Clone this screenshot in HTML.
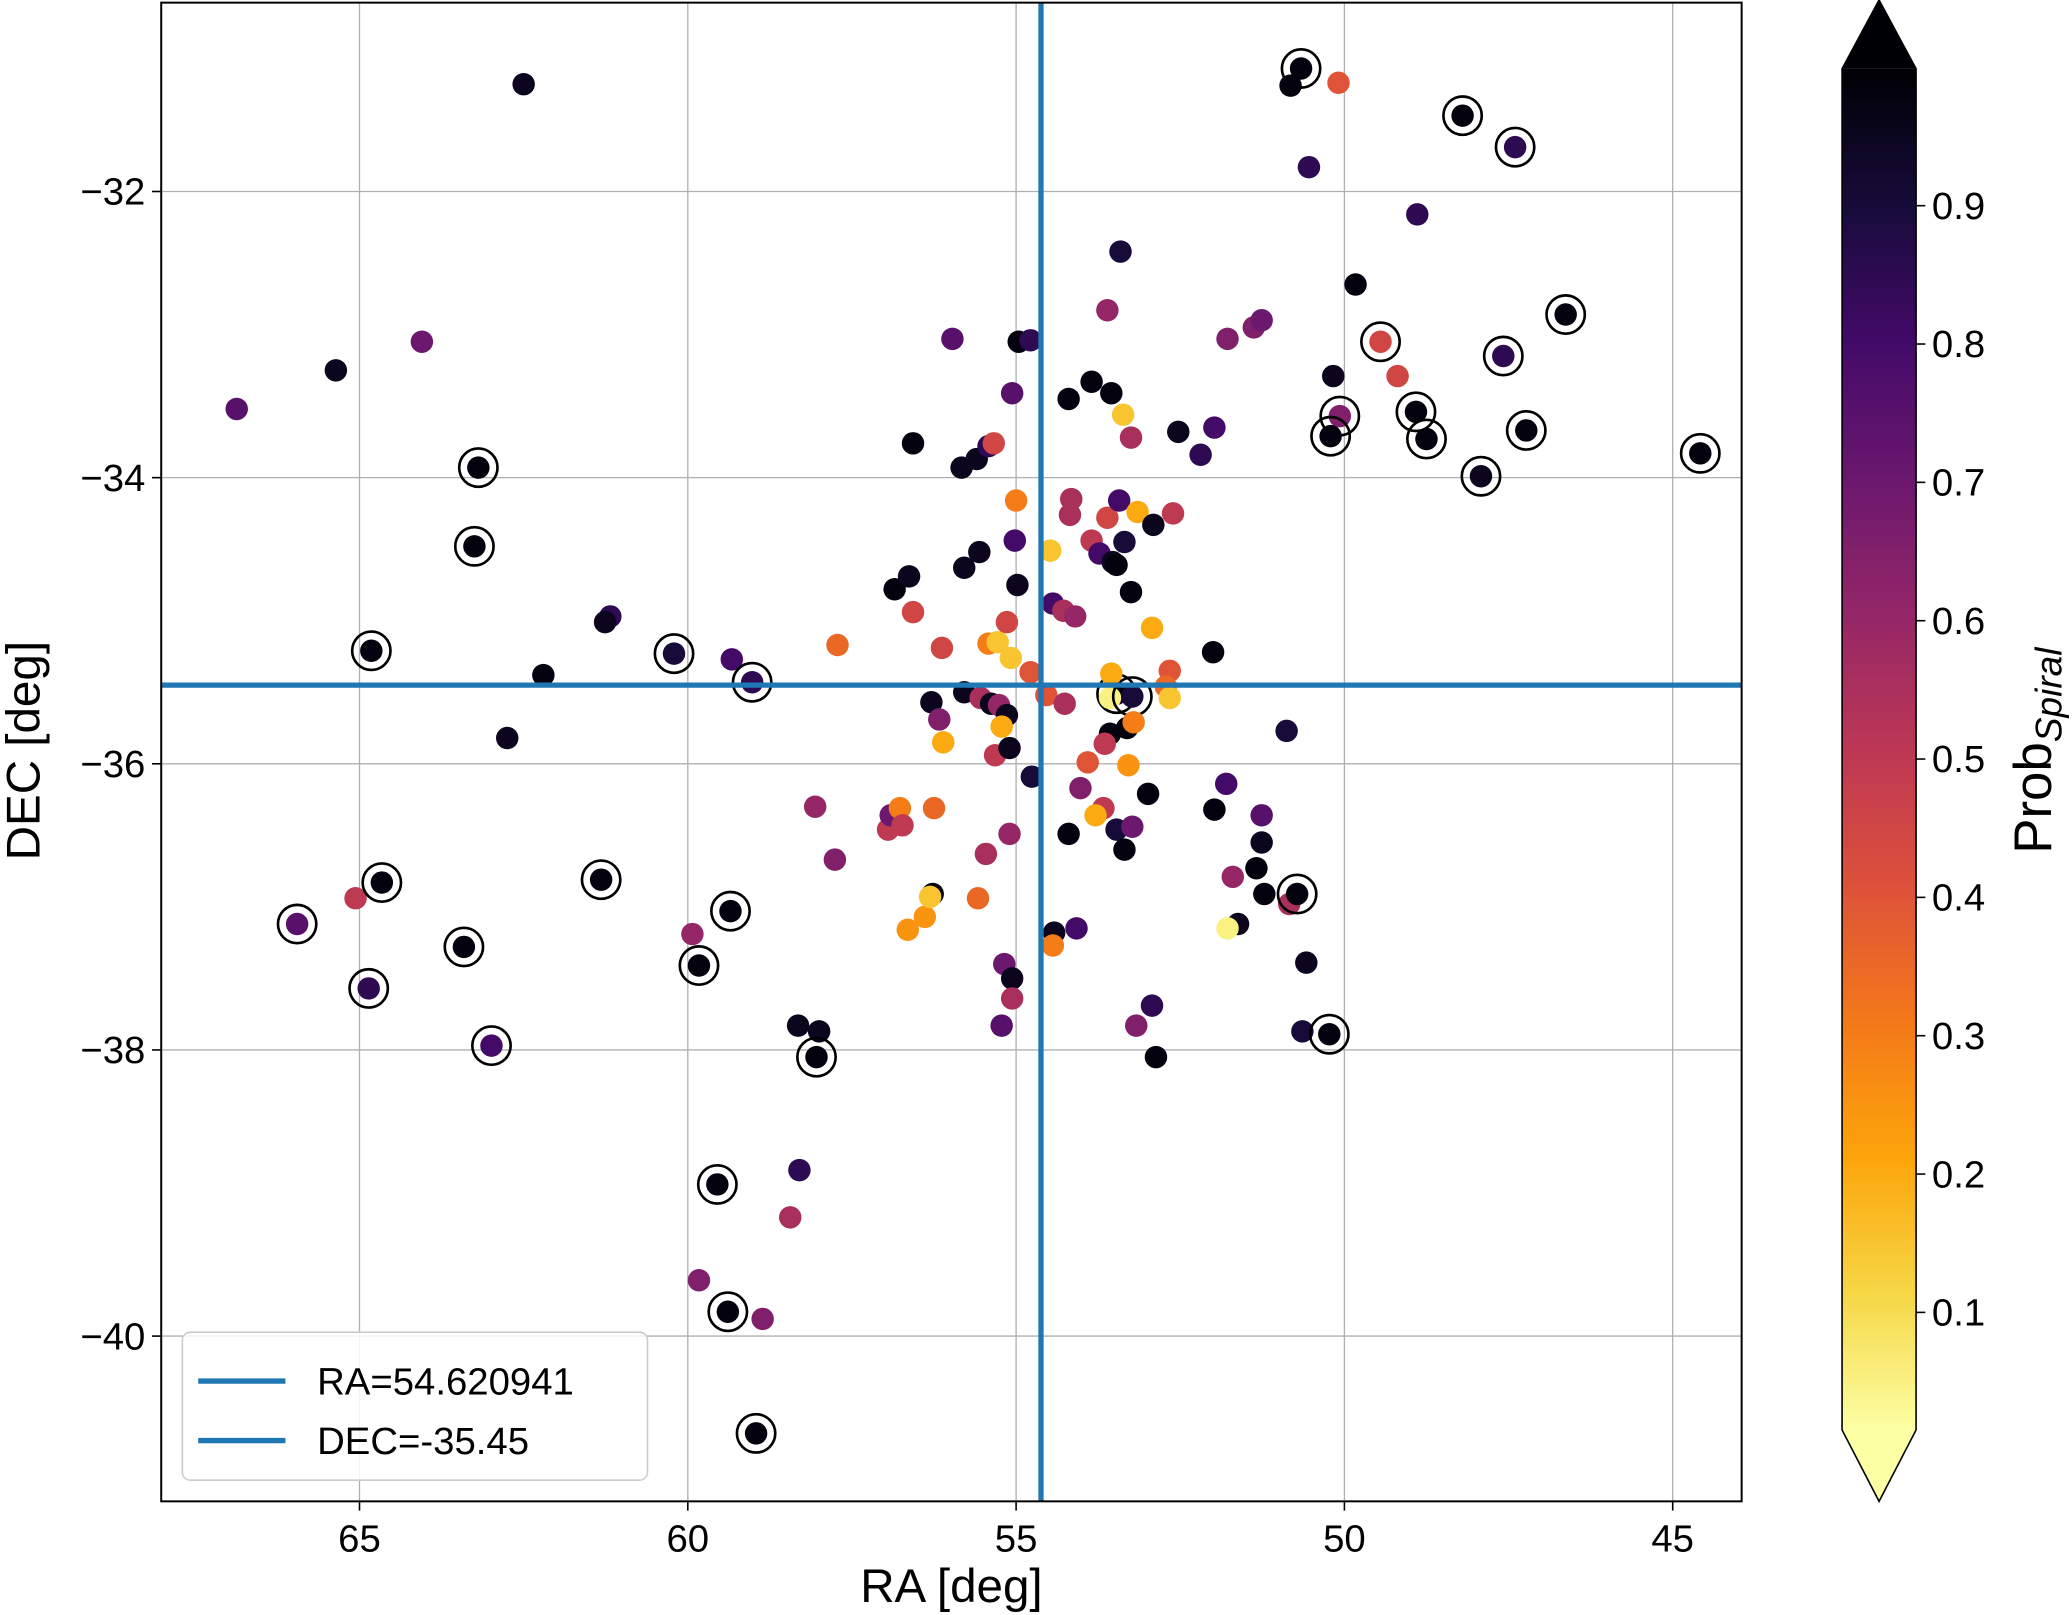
<!DOCTYPE html>
<html><head><meta charset="utf-8"><style>
html,body{margin:0;padding:0;background:#fff;}
svg{display:block;font-family:"Liberation Sans","DejaVu Sans",sans-serif;}
</style></head><body>
<svg id="chart" width="2072" height="1615" viewBox="0 0 1568 1222" preserveAspectRatio="none" xmlns="http://www.w3.org/2000/svg">
<g id="grid"></g>
<g id="marks"></g>
<g id="lines"></g>
<rect x="122" y="2" width="1196" height="1134" fill="none" stroke="#000" stroke-width="1.5"/>
<g id="ticks" font-size="29" fill="#000"></g>
<text x="720" y="1212" font-size="36" text-anchor="middle">RA [deg]</text>
<text transform="translate(30,568) rotate(-90)" font-size="36" text-anchor="middle">DEC [deg]</text>
<g>
<rect x="138" y="1008" width="352" height="112" rx="6" fill="#fff" fill-opacity="0.85" stroke="#ccc" stroke-width="1.2"/>
<line x1="150" y1="1045" x2="216" y2="1045" stroke="#1f77b4" stroke-width="4"/>
<text x="240" y="1055" font-size="29">RA=54.620941</text>
<line x1="150" y1="1090" x2="216" y2="1090" stroke="#1f77b4" stroke-width="4"/>
<text x="240" y="1100" font-size="29">DEC=-35.45</text>
</g>
<defs><linearGradient id="cg" x1="0" y1="1" x2="0" y2="0"></linearGradient></defs>
<g id="cbar"></g>
<text transform="translate(1552,568) rotate(-90)" font-size="40" text-anchor="middle">Prob<tspan font-size="28" font-style="italic" dy="8">Spiral</tspan></text>
</svg>
<script>
const NS="http://www.w3.org/2000/svg";
const ra=[66.87,65.36,64.05,62.50,63.19,63.25,64.82,62.20,62.75,61.18,61.26,60.21,59.33,59.02,65.06,64.66,65.95,64.86,63.41,62.99,61.32,59.93,59.83,59.35,59.55,58.30,58.32,58.00,58.04,58.44,59.83,59.39,58.86,58.96,58.06,57.72,57.76,56.95,56.91,56.77,56.73,56.25,56.57,56.85,56.63,56.57,56.13,56.29,56.17,56.11,56.65,56.39,56.27,56.31,55.97,55.83,55.60,55.42,55.34,55.79,55.56,55.79,55.54,55.42,55.28,55.38,55.26,55.14,55.22,55.32,55.10,55.46,55.58,55.10,55.18,55.06,55.06,55.22,54.96,54.78,55.06,55.00,55.02,54.98,55.14,55.08,54.78,54.76,54.48,54.20,53.85,53.55,53.61,53.41,53.37,53.25,54.16,54.18,53.85,53.61,53.43,53.73,53.53,53.47,53.35,53.25,53.15,52.91,52.61,54.44,54.28,54.10,52.93,52.66,52.72,52.66,52.00,54.54,54.26,53.47,53.57,53.23,53.55,53.31,53.21,53.57,53.65,53.91,53.29,54.02,52.99,54.20,53.67,53.79,53.47,53.23,53.35,54.42,54.08,54.44,52.93,53.17,52.87,52.53,52.19,51.98,51.78,51.38,51.26,51.98,51.80,51.26,51.26,51.70,51.34,51.22,51.62,51.78,50.88,50.84,50.72,50.58,50.64,50.23,50.66,50.82,50.09,50.54,49.83,50.17,50.07,50.21,49.45,49.19,48.89,48.91,48.75,48.20,47.40,47.58,47.92,47.23,46.63,44.58];
const dec=[-33.52,-33.25,-33.05,-31.25,-33.93,-34.48,-35.21,-35.38,-35.82,-34.97,-35.01,-35.23,-35.27,-35.43,-36.94,-36.83,-37.12,-37.57,-37.28,-37.97,-36.81,-37.19,-37.41,-37.03,-38.94,-38.84,-37.83,-37.87,-38.05,-39.17,-39.61,-39.83,-39.88,-40.68,-36.30,-35.17,-36.67,-36.46,-36.36,-36.31,-36.43,-36.31,-33.76,-34.78,-34.69,-34.94,-35.19,-35.57,-35.69,-35.85,-37.16,-37.07,-36.91,-36.93,-33.03,-33.93,-33.87,-33.78,-33.76,-34.63,-34.52,-35.50,-35.54,-35.16,-35.15,-35.58,-35.59,-35.66,-35.74,-35.94,-35.89,-36.63,-36.94,-36.49,-37.40,-37.50,-37.64,-37.83,-33.05,-33.04,-33.41,-34.16,-34.44,-34.75,-35.01,-35.26,-35.36,-36.09,-34.51,-33.45,-33.33,-33.41,-32.83,-32.42,-33.56,-33.72,-34.15,-34.26,-34.44,-34.28,-34.16,-34.53,-34.59,-34.61,-34.45,-34.80,-34.24,-34.33,-34.25,-34.88,-34.93,-34.97,-35.05,-35.35,-35.46,-35.54,-35.22,-35.52,-35.58,-35.51,-35.54,-35.53,-35.37,-35.75,-35.71,-35.79,-35.86,-35.99,-36.01,-36.17,-36.21,-36.49,-36.31,-36.36,-36.46,-36.44,-36.60,-37.18,-37.15,-37.27,-37.69,-37.83,-38.05,-33.68,-33.84,-33.65,-33.03,-32.95,-32.90,-36.32,-36.14,-36.36,-36.55,-36.79,-36.73,-36.91,-37.12,-37.15,-35.77,-36.98,-36.91,-37.39,-37.87,-37.89,-31.14,-31.26,-31.24,-31.83,-32.65,-33.29,-33.57,-33.71,-33.05,-33.29,-32.16,-33.54,-33.73,-31.47,-31.69,-33.15,-33.99,-33.67,-32.86,-33.83];
const prob=[0.75,0.95,0.7,0.95,0.98,0.98,0.98,0.98,0.95,0.85,0.95,0.9,0.8,0.85,0.5,0.98,0.75,0.85,0.98,0.8,0.98,0.6,0.98,0.98,0.98,0.85,0.95,0.95,0.98,0.55,0.65,0.98,0.65,0.98,0.6,0.35,0.65,0.5,0.7,0.3,0.5,0.35,0.98,0.98,0.95,0.45,0.45,0.95,0.65,0.2,0.25,0.25,0.98,0.15,0.75,0.95,0.95,0.85,0.45,0.95,0.95,0.95,0.55,0.3,0.15,0.95,0.6,0.95,0.2,0.5,0.95,0.55,0.35,0.6,0.7,0.95,0.55,0.75,0.98,0.85,0.75,0.3,0.8,0.95,0.45,0.15,0.4,0.9,0.15,0.98,0.98,0.98,0.6,0.9,0.15,0.55,0.55,0.55,0.5,0.45,0.8,0.8,0.95,0.98,0.9,0.98,0.2,0.95,0.5,0.8,0.55,0.6,0.2,0.4,0.35,0.15,0.98,0.4,0.55,0.98,0.05,0.9,0.2,0.98,0.3,0.98,0.5,0.4,0.25,0.65,0.98,0.98,0.5,0.2,0.9,0.7,0.98,0.95,0.8,0.3,0.85,0.65,0.98,0.95,0.85,0.8,0.65,0.65,0.7,0.98,0.8,0.75,0.95,0.6,0.98,0.98,0.95,0.05,0.9,0.55,0.98,0.95,0.9,0.98,0.98,0.98,0.4,0.85,0.98,0.95,0.65,0.98,0.45,0.45,0.85,0.98,0.98,0.98,0.85,0.85,0.95,0.98,0.98,0.98];
const ringed=[4,5,6,11,13,15,16,17,18,19,20,22,23,24,28,31,33,119,121,160,163,164,170,171,172,175,176,177,178,179,180,181,182,183];
const xTicks=[65,60,55,50,45];
const yTicks=[-32,-34,-36,-38,-40];
const cTicks=[0.9,0.8,0.7,0.6,0.5,0.4,0.3,0.2,0.1];
const refRA=54.620941, refDEC=-35.45;

const X0=122,X1=1318,Y0=2,Y1=1136;
const RAmax=68.02,RAmin=43.95,DECmax=-30.68,DECmin=-41.155;
const xs=v=>X0+(RAmax-v)/(RAmax-RAmin)*(X1-X0);
const ys=v=>Y0+(DECmax-v)/(DECmax-DECmin)*(Y1-Y0);
const VMIN=0.015,VMAX=0.999,CB0=52,CB1=1082;
const cs=v=>CB0+(VMAX-v)/(VMAX-VMIN)*(CB1-CB0);
const INF=[[0,0,4],[22,11,57],[66,10,104],[106,23,110],[147,38,103],[188,55,84],[221,81,58],[243,120,25],[252,165,10],[246,215,70],[252,255,164]];
function inferno(t){t=Math.max(0,Math.min(1,t));const f=t*10,i=Math.min(9,Math.floor(f)),r=f-i;const a=INF[i],b=INF[i+1];return `rgb(${a.map((c,k)=>Math.round(c+(b[k]-c)*r)).join(',')})`;}
const col=p=>inferno(1-(p-VMIN)/(VMAX-VMIN));
function mk(tag,attrs,parent){const e=document.createElementNS(NS,tag);for(const k in attrs)e.setAttribute(k,attrs[k]);parent.appendChild(e);return e;}

const gridG=document.getElementById('grid'),ticksG=document.getElementById('ticks');
xTicks.forEach(v=>{const x=xs(v);
 const g=mk('line',{x1:x,y1:Y0,x2:x,y2:Y1,stroke:'#b0b0b0','stroke-width':1},gridG);
 
 
 const tm=mk('line',{x1:x,y1:Y1,x2:x,y2:Y1+7,stroke:'#000','stroke-width':1.2},ticksG);
 
 
 const t=mk('text',{x:x,y:Y1+38,'text-anchor':'middle'},ticksG);t.textContent=String(v);
 
 });
yTicks.forEach(v=>{const y=ys(v);
 const g=mk('line',{x1:X0,y1:y,x2:X1,y2:y,stroke:'#b0b0b0','stroke-width':1},gridG);
 
 
 const tm=mk('line',{x1:X0-7,y1:y,x2:X0,y2:y,stroke:'#000','stroke-width':1.2},ticksG);
 
 
 const t=mk('text',{x:X0-12,y:y+10,'text-anchor':'end'},ticksG);t.textContent='\u2212'+Math.abs(v);
 
 });

const marksG=document.getElementById('marks');
ra.forEach((r,i)=>{
 const c=mk('circle',{cx:xs(r),cy:ys(dec[i]),r:8.5,fill:col(prob[i])},marksG);
 
 
 if(ringed.includes(i)){
  const o=mk('circle',{cx:xs(r),cy:ys(dec[i]),r:14.5,fill:'none',stroke:'#000','stroke-width':2},marksG);
  
  
 }
});

const linesG=document.getElementById('lines');
const vl=mk('line',{x1:xs(refRA),y1:Y0,x2:xs(refRA),y2:Y1,stroke:'#1f77b4','stroke-width':4},linesG);


const hl=mk('line',{x1:X0,y1:ys(refDEC),x2:X1,y2:ys(refDEC),stroke:'#1f77b4','stroke-width':4},linesG);



const grad=document.getElementById('cg');
for(let k=0;k<=20;k++){const t=k/20;mk('stop',{offset:t,'stop-color':inferno(1-t)},grad);}
const cb=document.getElementById('cbar');
const CX0=1394,CX1=1450,CXM=1422;
const cbTop=mk('polygon',{points:`${CX0},${CB0} ${CXM},0 ${CX1},${CB0}`,fill:inferno(0)},cb);


const cbBot=mk('polygon',{points:`${CX0},${CB1} ${CXM},1136 ${CX1},${CB1}`,fill:inferno(1)},cb);


const cr=mk('rect',{x:CX0,y:CB0,width:CX1-CX0,height:CB1-CB0,fill:'url(#cg)'},cb);


const fr=mk('polygon',{points:`${CX0},${CB0} ${CXM},0 ${CX1},${CB0} ${CX1},${CB1} ${CXM},1136 ${CX0},${CB1}`,fill:'none',stroke:'#000','stroke-width':1.2},cb);


cTicks.forEach(v=>{const y=cs(v);
 const tm=mk('line',{x1:CX1,y1:y,x2:CX1+7,y2:y,stroke:'#000','stroke-width':1.2},cb);
 
 
 const t=mk('text',{x:CX1+12,y:y+10,'font-size':29},cb);t.textContent=v.toFixed(1);
 
 });
</script>
</body></html>
